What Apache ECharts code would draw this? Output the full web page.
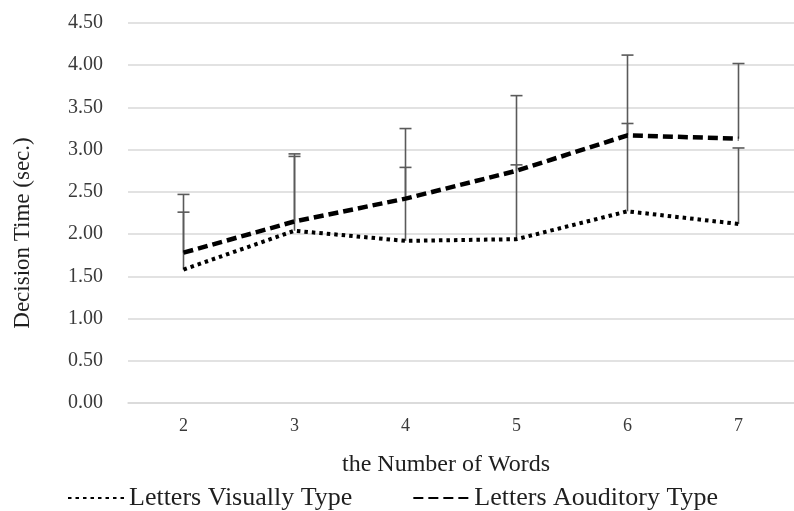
<!DOCTYPE html>
<html>
<head>
<meta charset="utf-8">
<script src="https://cdn.jsdelivr.net/npm/echarts@6/dist/echarts.min.js"></script>
<style>
html,body{margin:0;padding:0;background:#fff;}
#c{width:794px;height:511px;}
</style>
</head>
<body>
<div id="c"></div>
<script>
const categories = ['2', '3', '4', '5', '6', '7'];
const visualMeans = [1.58, 2.04, 1.92, 1.94, 2.27, 2.12];
const visualUpper = [2.26, 2.92, 2.79, 2.82, 3.31, 3.02];
const auditoryMeans = [1.78, 2.15, 2.42, 2.75, 3.17, 3.13];
const auditoryUpper = [2.47, 2.95, 3.25, 3.64, 4.12, 4.02];
const yTicks = { min: 0, max: 4.5, interval: 0.5 };
const seriesNames = ['Letters Visually Type', 'Letters Aouditory Type'];

const errData = [];
categories.forEach((c, i) => {
  errData.push([i, visualMeans[i], visualUpper[i]]);
  errData.push([i, auditoryMeans[i], auditoryUpper[i]]);
});

const serif = 'Liberation Serif';
const chart = echarts.init(document.getElementById('c'), null, { renderer: 'canvas' });
chart.setOption({
  backgroundColor: '#ffffff',
  animation: false,
  grid: { left: 128, right: -6, top: 23, bottom: 108 },
  xAxis: {
    type: 'category',
    data: categories,
    boundaryGap: true,
    axisLine: { show: true, lineStyle: { color: '#d9d9d9', width: 1.5 } },
    axisTick: { show: false },
    axisLabel: { color: '#3a3a3a', fontFamily: serif, fontSize: 18, margin: 14 },
    name: 'the Number of Words',
    nameLocation: 'middle',
    nameGap: 50,
    nameTextStyle: { color: '#1f1f1f', fontFamily: serif, fontSize: 24, padding: [0, 30, 0, 0] }
  },
  yAxis: {
    type: 'value',
    min: yTicks.min,
    max: yTicks.max,
    interval: yTicks.interval,
    axisLine: { show: false },
    axisTick: { show: false },
    splitLine: { lineStyle: { color: '#d9d9d9', width: 1.5 } },
    axisLabel: {
      color: '#3a3a3a', fontFamily: serif, fontSize: 20, margin: 25,
      formatter: v => v.toFixed(2)
    },
    name: 'Decision Time (sec.)',
    nameLocation: 'middle',
    nameGap: 94,
    nameTextStyle: { color: '#1f1f1f', fontFamily: serif, fontSize: 23, padding: [0, 40, 0, 0] }
  },
  legend: {
    left: 62,
    top: 480,
    itemWidth: 56,
    itemHeight: 14,
    itemGap: 60,
    itemTextGap: 8,
    itemStyle: { opacity: 0 },
    textStyle: { color: '#1f1f1f', fontFamily: serif, fontSize: 26 },
    data: seriesNames
  },
  series: [
    {
      type: 'custom',
      name: 'err',
      z: 1,
      silent: true,
      data: errData,
      renderItem: function (params, api) {
        const lo = api.coord([api.value(0), api.value(1)]);
        const hi = api.coord([api.value(0), api.value(2)]);
        const hw = 6;
        const st = { stroke: '#5a5a5a', lineWidth: 1.6 };
        return {
          type: 'group',
          children: [
            { type: 'line', shape: { x1: lo[0], y1: lo[1], x2: hi[0], y2: hi[1] }, style: st },
            { type: 'line', shape: { x1: hi[0] - hw, y1: hi[1], x2: hi[0] + hw, y2: hi[1] }, style: st }
          ]
        };
      }
    },
    {
      type: 'line',
      name: seriesNames[0],
      z: 3,
      data: visualMeans,
      symbol: 'none',
      color: '#000',
      lineStyle: { color: '#000', width: 4, type: [3.5, 4] }
    },
    {
      type: 'line',
      name: seriesNames[1],
      z: 3,
      data: auditoryMeans,
      symbol: 'none',
      color: '#000',
      lineStyle: { color: '#000', width: 4.5, type: [10, 5] }
    }
  ]
});
</script>
</body>
</html>
